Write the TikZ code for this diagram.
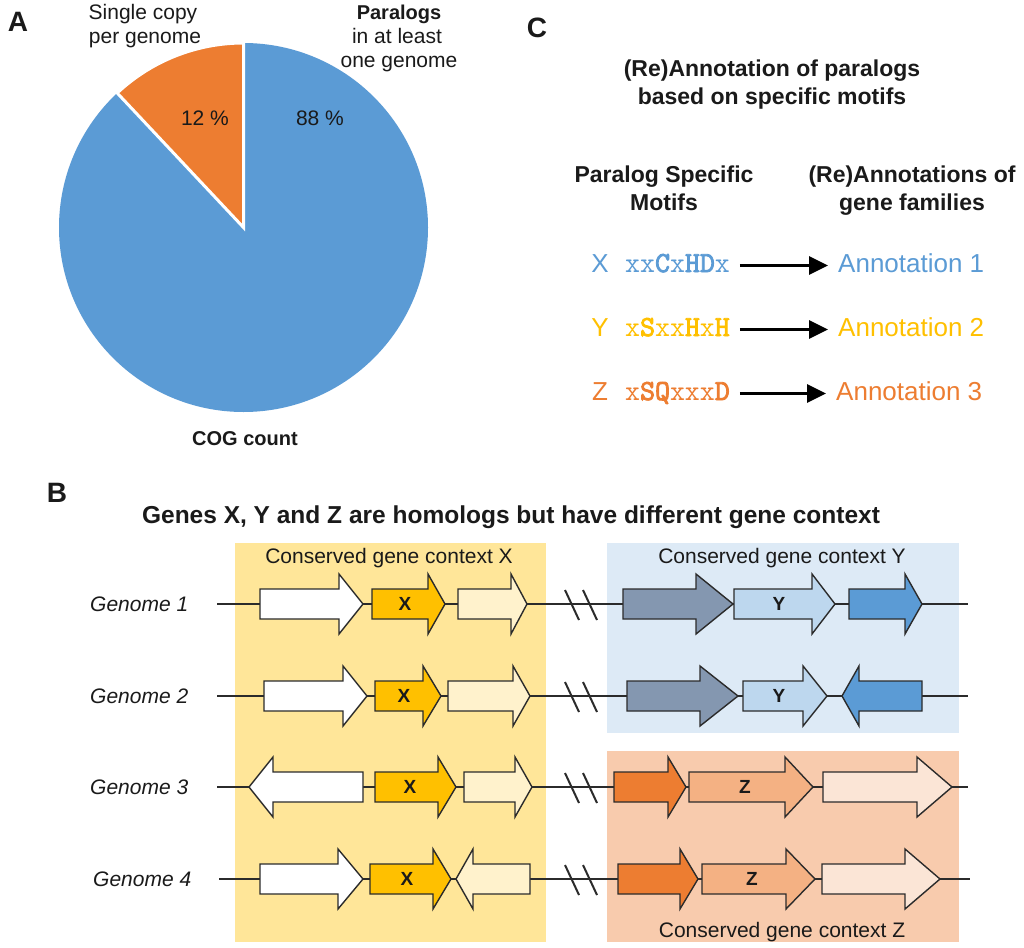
\documentclass[tikz,border=0pt]{standalone}
\usepackage{fontspec}
\setmainfont{Liberation Sans}
\newfontfamily\monof{Latin Modern Mono}
\newfontfamily\monob[FakeBold=3]{Latin Modern Mono}
\usetikzlibrary{arrows.meta}
\definecolor{pieblue}{HTML}{5B9BD5}
\definecolor{pieorange}{HTML}{ED7D31}
\definecolor{motY}{HTML}{FFC000}
\definecolor{boxyellow}{HTML}{FFE699}
\definecolor{boxblue}{HTML}{DDEAF6}
\definecolor{boxorange}{HTML}{F8CBAD}
\definecolor{gX}{HTML}{FFC000}
\definecolor{gXlight}{HTML}{FFF2CC}
\definecolor{ggrey}{HTML}{8497B0}
\definecolor{gY}{HTML}{BDD7EE}
\definecolor{gZ}{HTML}{F4B183}
\definecolor{gZlight}{HTML}{FBE5D6}
\definecolor{inkc}{HTML}{1A1A1A}
\definecolor{edgec}{HTML}{2B2B2B}
\newcommand\fs[1]{\fontsize{#1}{#1}\selectfont}
\newcommand\mb[1]{{\monob #1}}
% right-pointing gene: x1, head base, tip, y, fill
\newcommand\garR[5]{\filldraw[gene,fill=#5] (#1,#4-15) -- (#2,#4-15) -- (#2,#4-30) -- (#3,#4) -- (#2,#4+30) -- (#2,#4+15) -- (#1,#4+15) -- cycle;}
% left-pointing gene: tip, head base, x2, y, fill
\newcommand\garL[5]{\filldraw[gene,fill=#5] (#1,#4) -- (#2,#4-30) -- (#2,#4-15) -- (#3,#4-15) -- (#3,#4+15) -- (#2,#4+15) -- (#2,#4+30) -- cycle;}
\newcommand\brk[1]{\draw[gline] (565,#1-14) -- (579,#1+16); \draw[gline] (583,#1-14) -- (597,#1+16);}
\begin{document}
\begin{tikzpicture}[x=1pt,y=-1pt,
  txt/.style={inner sep=0pt,text=inkc},
  panel/.style={txt,font=\bfseries\fs{28}},
  pietxt/.style={txt,font=\fs{21}},
  pietxtb/.style={txt,font=\bfseries\fs{20}},
  chead/.style={txt,font=\bfseries\fs{23}},
  crow/.style={inner sep=0pt,font=\fs{26},text height=18pt,text depth=5pt},
  cmot/.style={inner sep=0pt,font=\monof\fs{29},text height=18pt,text depth=5pt},
  carrow/.style={-{Triangle[length=19pt,width=18pt]},line width=3pt,shorten <=10pt,shorten >=10pt},
  gene/.style={draw=edgec,line width=1.4pt,line join=miter},
  gline/.style={draw=edgec,line width=2pt},
  glabel/.style={txt,font=\itshape\fs{21}},
  gname/.style={txt,font=\bfseries\fs{19}},
  ctx/.style={txt,font=\fs{21}},
]
\useasboundingbox (0,0) rectangle (1024,947);
\fill[white] (0,0) rectangle (1024,947);

% ---------------- Panel A ----------------
\node[panel,anchor=base] (lA) at (18,32) {A};
\fill[pieblue] (243.5,227.5) circle[radius=184.5];
\filldraw[fill=pieorange,draw=white,line width=3pt,line join=miter]
  (243.5,227.5) -- (243.5,43) arc[start angle=-90,end angle=-133.2,radius=184.5] -- cycle;
\node[pietxt,anchor=base] (sc1) at (143,20) {Single copy};
\node[pietxt,anchor=base] (sc2) at (145,44) {per genome};
\node[pietxtb,anchor=base] (pa1) at (399,20) {Paralogs};
\node[pietxt,anchor=base] (pa2) at (397,44) {in at least};
\node[pietxt,anchor=base] (pa3) at (399,68) {one genome};
\node[pietxt,anchor=base] (p12) at (205,125) {12 \%};
\node[pietxt,anchor=base] (p88) at (320,125) {88 \%};
\node[pietxtb,anchor=base] (cog) at (245,445) {COG count};

% ---------------- Panel C ----------------
\node[panel,anchor=base] (lC) at (537,38) {C};
\node[chead,anchor=base] (ct1) at (772,77) {(Re)Annotation of paralogs};
\node[chead,anchor=base] (ct2) at (772,105) {based on specific motifs};
\node[chead,anchor=base] (ch1) at (664,182) {Paralog Specific};
\node[chead,anchor=base] (ch2) at (664,210) {Motifs};
\node[chead,anchor=base] (ch3) at (912,182) {(Re)Annotations of};
\node[chead,anchor=base] (ch4) at (912,210) {gene families};

\node[crow,text=pieblue,anchor=base] (lX) at (600,272) {X};
\node[cmot,text=pieblue,anchor=base west] (mX) at (625,272) {xx\mb{C}x\mb{HD}x};
\node[crow,text=pieblue,anchor=base west] (aX) at (838,272) {Annotation 1};
\draw[carrow] (mX.east) -- (aX.west);

\node[crow,text=motY,anchor=base] (lY) at (600,336) {Y};
\node[cmot,text=motY,anchor=base west] (mY) at (625,336) {x\mb{S}xx\mb{H}x\mb{H}};
\node[crow,text=motY,anchor=base west] (aY) at (838,336) {Annotation 2};
\draw[carrow] (mY.east) -- (aY.west);

\node[crow,text=pieorange,anchor=base] (lZ) at (600,400) {Z};
\node[cmot,text=pieorange,anchor=base west] (mZ) at (625,400) {x\mb{SQ}xxx\mb{D}};
\node[crow,text=pieorange,anchor=base west] (aZ) at (836,400) {Annotation 3};
\draw[carrow] (mZ.east) -- (aZ.west);

% ---------------- Panel B ----------------
\node[panel,anchor=base] (lB) at (57,502) {B};
\node[txt,font=\bfseries\fs{24.5},anchor=base] (bt) at (511,523) {Genes X, Y and Z are homologs but have different gene context};

\fill[boxyellow] (235,543) rectangle (546,942);
\fill[boxblue] (607,543) rectangle (959,733);
\fill[boxorange] (607,751) rectangle (959,942);
\node[ctx,anchor=base] (cx) at (389,563) {Conserved gene context X};
\node[ctx,anchor=base] (cy) at (782,563) {Conserved gene context Y};
\node[ctx,anchor=base] (cz) at (782,937) {Conserved gene context Z};

\node[glabel,anchor=base west] (g1) at (90,611.5) {Genome 1};
\node[glabel,anchor=base west] (g2) at (90,703.5) {Genome 2};
\node[glabel,anchor=base west] (g3) at (90,794.5) {Genome 3};
\node[glabel,anchor=base west] (g4) at (93,886.5) {Genome 4};

% genome lines
\draw[gline] (217,604) -- (968,604);
\draw[gline] (217,696) -- (968,696);
\draw[gline] (217,787) -- (968,787);
\draw[gline] (219,879) -- (970,879);
\brk{604}\brk{696}\brk{787}\brk{879}

% Genome 1
\garR{260}{339}{363}{604}{white}
\garR{372}{428}{445}{604}{gX}
\garR{458}{511}{527}{604}{gXlight}
\garR{623}{696}{733}{604}{ggrey}
\garR{734}{812}{835}{604}{gY}
\garR{849}{905}{922}{604}{pieblue}
% Genome 2
\garR{264}{343}{367}{696}{white}
\garR{375}{423}{441}{696}{gX}
\garR{448}{513}{530}{696}{gXlight}
\garR{627}{700}{738}{696}{ggrey}
\garR{743}{803}{827}{696}{gY}
\garL{842}{859}{922}{696}{pieblue}
% Genome 3
\garL{249}{273}{363}{787}{white}
\garR{375}{438}{456}{787}{gX}
\garR{464}{515}{532}{787}{gXlight}
\garR{614}{668}{686}{787}{pieorange}
\garR{689}{785}{813}{787}{gZ}
\garR{823}{917}{952}{787}{gZlight}
% Genome 4
\garR{260}{338}{363}{879}{white}
\garR{370}{433}{451}{879}{gX}
\garL{456}{473}{530}{879}{gXlight}
\garR{618}{680}{698}{879}{pieorange}
\garR{702}{786}{815}{879}{gZ}
\garR{822}{905}{940}{879}{gZlight}

% gene names
\node[gname] (x1) at (405,604) {X};
\node[gname] (x2) at (404,696) {X};
\node[gname] (x3) at (410,787) {X};
\node[gname] (x4) at (407,879) {X};
\node[gname] (y1) at (779,604) {Y};
\node[gname] (y2) at (779,696) {Y};
\node[gname] (z3) at (745,787) {Z};
\node[gname] (z4) at (752,879) {Z};
\end{tikzpicture}
\end{document}
